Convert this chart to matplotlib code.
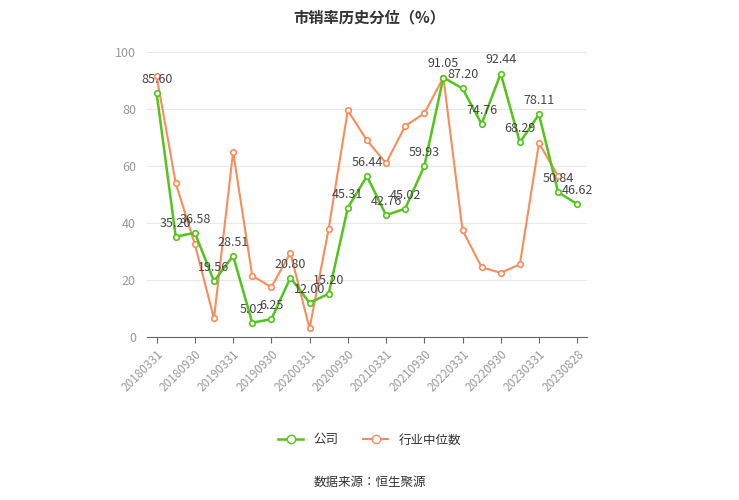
import matplotlib.pyplot as plt
from matplotlib.lines import Line2D

plt.rcParams['font.family'] = ['Noto Sans CJK SC', 'Noto Sans CJK JP', 'Noto Sans CJK TC', 'DejaVu Sans']

dates = ['20180331', '20180630', '20180930', '20181231', '20190331', '20190630',
         '20190930', '20191231', '20200331', '20200630', '20200930', '20201231',
         '20210331', '20210630', '20210930', '20211231', '20220331', '20220630',
         '20220930', '20221231', '20230331', '20230630', '20230828']
company = [85.60, 35.20, 36.58, 19.56, 28.51, 5.02, 6.25, 20.80, 12.00, 15.20, 45.31, 56.44,
           42.76, 45.02, 59.93, 91.05, 87.20, 74.76, 92.44, 68.29, 78.11, 50.84, 46.62]
industry = [91.5, 54, 32.5, 6.5, 65, 21.5, 17.5, 29.5, 3, 38, 79.5, 69, 61, 74, 78.5,
            91, 37.5, 24.5, 22.5, 25.5, 68, 56.5]

green = '#52c41a'
orange = '#fa8c5a'

fig = plt.figure(figsize=(7.39, 5), dpi=100)
ax = fig.add_axes([0.199, 0.326, 0.595, 0.57])
x = list(range(len(dates)))
ax.plot(x[:len(industry)], industry, color=orange, lw=1.5, marker='o', ms=4,
        mfc='white', mec=orange, mew=1.2, zorder=2)
ax.plot(x, company, color=green, lw=1.8, marker='o', ms=4,
        mfc='white', mec=green, mew=1.2, zorder=3)
for xi, v in zip(x, company):
    ax.text(xi, v + 2.5, f'{v:.2f}', ha='center', va='bottom', fontsize=9, color='#444444', zorder=4)

ax.set_xlim(-0.5, 22.5)
ax.set_ylim(0, 100)
ax.set_yticks(range(0, 101, 20))
ticks = list(range(0, 22, 2)) + [22]
ax.set_xticks(ticks)
ax.set_xticklabels([dates[i] for i in ticks], rotation=45, ha='right', rotation_mode='anchor',
                   fontsize=8.5, color='#999999')
ax.tick_params(axis='y', length=0, labelsize=9, labelcolor='#999999', pad=8)
ax.tick_params(axis='x', length=4, color='#666666')
ax.grid(axis='y', color='#e8e8e8', lw=0.8)
ax.set_axisbelow(True)
for s in ['top', 'right', 'left']:
    ax.spines[s].set_visible(False)
ax.spines['bottom'].set_color('#666666')

fig.text(0.5, 0.965, '市销率历史分位（%）', ha='center', va='center', fontsize=11,
         fontweight='bold', color='#333333')
handles = [Line2D([], [], color=green, lw=1.8, marker='o', ms=6, mfc='white', mec=green),
           Line2D([], [], color=orange, lw=1.5, marker='o', ms=6, mfc='white', mec=orange)]
fig.legend(handles, ['公司', '行业中位数'], loc='center', bbox_to_anchor=(0.5, 0.12), ncol=2,
           frameon=False, fontsize=9, labelcolor='#333333', handlelength=2, columnspacing=2)
fig.text(0.5, 0.035, '数据来源：恒生聚源', ha='center', va='center', fontsize=9, color='#333333')
fig.savefig('out.png', dpi=100)
